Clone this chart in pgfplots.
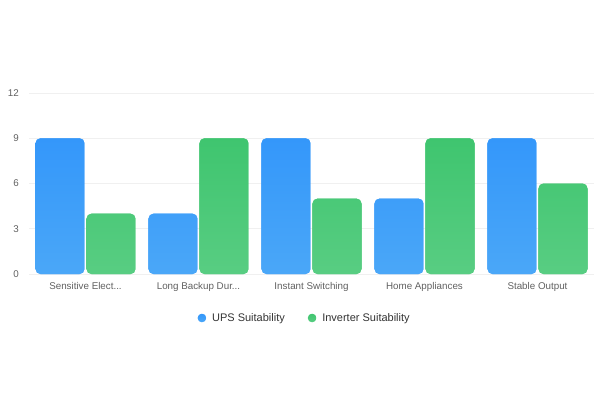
\documentclass[border=0pt]{standalone}
\usepackage{fontspec}
\setmainfont{Liberation Sans}
\usepackage{pgfplots}
\pgfplotsset{compat=1.18}

\definecolor{upsblue}{HTML}{3497FA}
\definecolor{upsblueb}{HTML}{4AA7F8}
\definecolor{invgreen}{HTML}{3FC56F}
\definecolor{invgreenb}{HTML}{58CD82}
\definecolor{gridgray}{HTML}{F0F0F0}
\definecolor{ticktext}{HTML}{606060}
\definecolor{legtext}{HTML}{333333}

\begin{document}
\begin{tikzpicture}
\useasboundingbox (-29pt,-126pt) rectangle (571pt,274pt);
\begin{axis}[
    at={(0,0)}, anchor=south west,
    scale only axis,
    width=565pt, height=181pt,
    ybar, bar width=49pt,
    xmin=-0.5, xmax=4.5,
    ymin=0, ymax=12,
    xtick={0,1,2,3,4},
    xticklabels={Sensitive Elect.{}.{}., Long Backup Dur.{}.{}., Instant Switching, Home Appliances, Stable Output},
    ytick={0,3,6,9,12},
    ymajorgrids,
    grid style={gridgray, line width=0.6pt},
    axis line style={draw=none},
    major tick length=0pt,
    tick style={draw=none},
    /pgf/number format/assume math mode=true,
    ticklabel style={font=\fontsize{9.8}{11}\selectfont, text=ticktext},
    yticklabel style={anchor=east, inner sep=0pt, xshift=-10pt},
    xticklabel style={anchor=north, inner sep=0pt, yshift=-8.5pt},
    legend style={at={(0.488,-0.243)}, anchor=center, draw=none, fill=none,
      legend columns=2, font=\fontsize{11}{13}\selectfont, text=legtext,
      /tikz/every odd column/.append style={column sep=4pt},
      /tikz/every even column/.append style={column sep=21pt}},
    legend image code/.code={\fill[#1] (0pt,0pt) circle (4.2pt);},
    ]
\addplot[draw=none, fill=upsblue, top color=upsblue, bottom color=upsblueb,
  rounded corners=5pt, bar shift=-25.5pt] coordinates {(0,9) (1,4) (2,9) (3,5) (4,9)};
\addplot[draw=none, fill=invgreen, top color=invgreen, bottom color=invgreenb,
  rounded corners=5pt, bar shift=25.5pt] coordinates {(0,4) (1,9) (2,5) (3,9) (4,6)};
\legend{UPS Suitability, Inverter Suitability}
\end{axis}
\end{tikzpicture}
\end{document}
